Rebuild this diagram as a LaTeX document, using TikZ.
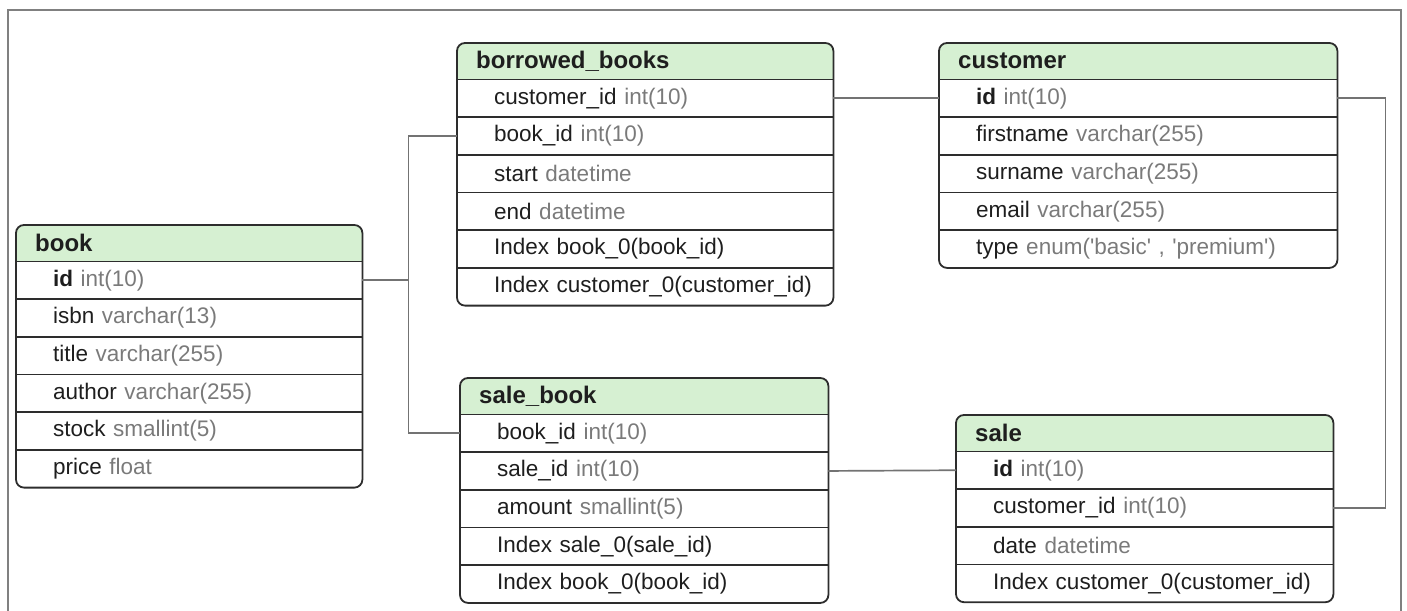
\documentclass[tikz,border=0pt]{standalone}
\usepackage{fontspec}
\setmainfont{Liberation Sans}
\usetikzlibrary{positioning,backgrounds}
\definecolor{hdrgreen}{RGB}{214,240,210}
\definecolor{typegray}{RGB}{122,122,122}
\definecolor{namegray}{RGB}{30,30,30}
\definecolor{linkgray}{RGB}{115,115,115}
\definecolor{tblgray}{RGB}{45,45,45}
\newcommand{\fld}[2]{\hspace*{37pt}\textcolor{namegray}{#1} \textcolor{typegray}{#2}}
\newcommand{\hd}[1]{\hspace*{19pt}#1}

\begin{document}
\begin{tikzpicture}
[x=1pt,y=-1pt,
hdr/.style={text width=#1, inner sep=0pt, minimum height=36pt, align=left,
font=\fontsize{24}{28}\selectfont\bfseries, text=namegray},
field/.style={text width=#1, inner sep=0pt, minimum height=37.3pt, align=left,
font=\fontsize{22.5}{26}\selectfont},
tbl/.style={draw=tblgray, line width=1.8pt},
link/.style={draw=linkgray, line width=1.7pt},
outerframe/.style={draw=gray, line width=1.4pt}]

\useasboundingbox (0,0) rectangle (1407,610);
\draw[outerframe] (8,615) -- (8,10) -- (1401,10) -- (1401,615);

% table book
\node[hdr=346pt, anchor=north west] (book) at (16,225) {\hd{book}};
\node[field=346pt, below=0pt of book] (book1) {\fld{\textbf{id}}{int(10)}};
\node[field=346pt, below=0pt of book1] (book2) {\fld{isbn}{varchar(13)}};
\node[field=346pt, below=0pt of book2] (book3) {\fld{title}{varchar(255)}};
\node[field=346pt, below=0pt of book3] (book4) {\fld{author}{varchar(255)}};
\node[field=346pt, below=0pt of book4] (book5) {\fld{stock}{smallint(5)}};
\node[field=346pt, below=0pt of book5] (book6) {\fld{price}{float}};

% table borrowed_books
\node[hdr=376pt, anchor=north west] (borrowed) at (457,43) {\hd{borrowed\_books}};
\node[field=376pt, below=0pt of borrowed] (borrowed1) {\fld{customer\_id}{int(10)}};
\node[field=376pt, below=0pt of borrowed1] (borrowed2) {\fld{book\_id}{int(10)}};
\node[field=376pt, below=0pt of borrowed2] (borrowed3) {\fld{start}{datetime}};
\node[field=376pt, below=0pt of borrowed3] (borrowed4) {\fld{end}{datetime}};
\node[field=376pt, below=0pt of borrowed4] (borrowed5) {\fld{Index book\_0(book\_id)}{}};
\node[field=376pt, below=0pt of borrowed5] (borrowed6) {\fld{Index customer\_0(customer\_id)}{}};

% table customer
\node[hdr=398pt, anchor=north west] (customer) at (939,43) {\hd{customer}};
\node[field=398pt, below=0pt of customer] (customer1) {\fld{\textbf{id}}{int(10)}};
\node[field=398pt, below=0pt of customer1] (customer2) {\fld{firstname}{varchar(255)}};
\node[field=398pt, below=0pt of customer2] (customer3) {\fld{surname}{varchar(255)}};
\node[field=398pt, below=0pt of customer3] (customer4) {\fld{email}{varchar(255)}};
\node[field=398pt, below=0pt of customer4] (customer5) {\fld{type}{enum(\textquotesingle basic\textquotesingle\ , \textquotesingle premium\textquotesingle)}};

% table sale_book
\node[hdr=368pt, anchor=north west] (salebook) at (460,378) {\hd{sale\_book}};
\node[field=368pt, below=0pt of salebook] (salebook1) {\fld{book\_id}{int(10)}};
\node[field=368pt, below=0pt of salebook1] (salebook2) {\fld{sale\_id}{int(10)}};
\node[field=368pt, below=0pt of salebook2] (salebook3) {\fld{amount}{smallint(5)}};
\node[field=368pt, below=0pt of salebook3] (salebook4) {\fld{Index sale\_0(sale\_id)}{}};
\node[field=368pt, below=0pt of salebook4] (salebook5) {\fld{Index book\_0(book\_id)}{}};

% table sale
\node[hdr=377pt, anchor=north west] (sale) at (956,415) {\hd{sale}};
\node[field=377pt, below=0pt of sale] (sale1) {\fld{\textbf{id}}{int(10)}};
\node[field=377pt, below=0pt of sale1] (sale2) {\fld{customer\_id}{int(10)}};
\node[field=377pt, below=0pt of sale2] (sale3) {\fld{date}{datetime}};
\node[field=377pt, below=0pt of sale3] (sale4) {\fld{Index customer\_0(customer\_id)}{}};

% header fills
\begin{scope}[on background layer]
\foreach \t/\n in {book/6,borrowed/6,customer/5,salebook/5,sale/4}{
  \begin{scope}
    \clip[rounded corners=8pt] (\t.north west) rectangle (\t\n.south east);
    \fill[hdrgreen] (\t.north west) rectangle (\t.south east);
  \end{scope}
}
\end{scope}

% frames and row lines
\foreach \t/\n in {book/6,borrowed/6,customer/5,salebook/5,sale/4}{
  \draw[tbl, rounded corners=8pt] (\t.north west) rectangle (\t\n.south east);
  \foreach \i in {1,...,\n}
    \draw[tbl] (\t\i.north west) -- (\t\i.north east);
}

% relations
\draw[link] (book1.east) -- ++(46,0) coordinate (bookjoin) |- (borrowed2.west);
\draw[link] (bookjoin) |- (salebook1.west);
\draw[link] (borrowed1.east) -- (customer1.west);
\draw[link] (customer1.east) -- ++(48,0) |- (sale2.east);
\draw[link] (salebook2.east) -- (sale1.west);
\end{tikzpicture}
\end{document}
